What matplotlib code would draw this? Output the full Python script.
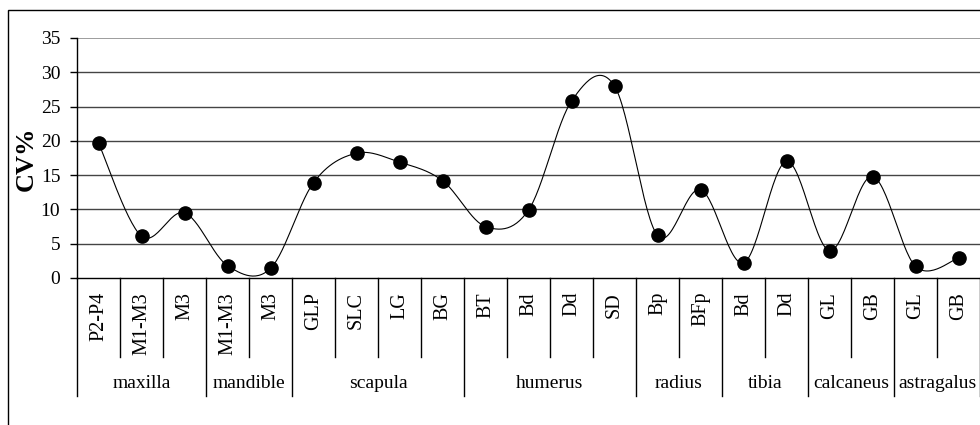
import numpy as np
import matplotlib
matplotlib.use("Agg")
import matplotlib.pyplot as plt
from matplotlib.patches import Rectangle
from matplotlib.transforms import blended_transform_factory

plt.rcParams['font.family'] = ['Liberation Serif', 'DejaVu Serif']

# data
groups = ["maxilla", "mandible", "scapula", "humerus", "radius", "tibia", "calcaneus", "astragalus"]
group_sizes = [3, 2, 4, 4, 2, 2, 2, 2]
measures = ["P2-P4", "M1-M3", "M3",
            "M1-M3", "M3",
            "GLP", "SLC", "LG", "BG",
            "BT", "Bd", "Dd", "SD",
            "Bp", "BFp",
            "Bd", "Dd",
            "GL", "GB",
            "GL", "GB"]
cv = [19.7, 6.1, 9.5,
      1.8, 1.4,
      13.9, 18.2, 16.9, 14.2,
      7.5, 9.9, 25.8, 28.0,
      6.2, 12.9,
      2.2, 17.0,
      4.0, 14.8,
      1.7, 2.9]
yticks = [0, 5, 10, 15, 20, 25, 30, 35]


def smooth(x, y, n=30):
    # Excel-like smoothed line (Catmull-Rom through bezier segments)
    x = np.asarray(x, float)
    y = np.asarray(y, float)
    pts = np.column_stack([x, y])
    out = []
    for i in range(len(pts) - 1):
        p0 = pts[i - 1] if i > 0 else pts[i]
        p1 = pts[i]
        p2 = pts[i + 1]
        p3 = pts[i + 2] if i + 2 < len(pts) else pts[i + 1]
        c1 = p1 + (p2 - p0) / 6
        c2 = p2 - (p3 - p1) / 6
        t = np.linspace(0, 1, n)[:, None]
        seg = ((1 - t) ** 3) * p1 + 3 * ((1 - t) ** 2) * t * c1 + 3 * (1 - t) * t ** 2 * c2 + t ** 3 * p2
        out.append(seg if i == 0 else seg[1:])
    out = np.vstack(out)
    return out[:, 0], out[:, 1]


W, H = 980, 425
fig = plt.figure(figsize=(W / 100, H / 100), dpi=100)
ax = fig.add_axes([77 / W, (H - 278) / H, 946 / W, 240 / H])

# outer chart border
fig.patches.append(Rectangle((8 / W, -0.1), 1.2, 1.1 - 10 / H, transform=fig.transFigure,
                             fill=False, edgecolor='black', lw=1.0))

xs = np.arange(len(cv))
sx, sy = smooth(xs, cv)
ax.plot(sx, sy, color='black', lw=0.8, zorder=3)
ax.plot(xs, cv, 'o', color='black', markersize=9.5, zorder=4)

ax.set_xlim(-0.5, len(cv) - 0.5 + 1)
ax.set_ylim(0, 35)
ax.set_yticks(yticks)
ax.tick_params(axis='y', direction='out', length=5, width=1, labelsize=14, pad=7)
for v in yticks[1:]:
    ax.axhline(v, color='#8c8c8c' if v == 35 else '#444444', lw=1.2 if v == 35 else 1, zorder=1)
ax.set_xticks([])
for s in ['top', 'right']:
    ax.spines[s].set_visible(False)
ax.spines['left'].set_linewidth(1)
ax.spines['bottom'].set_linewidth(1)
fig.text(26 / W, 1 - 159 / H, "CV%", rotation=90, ha='center', va='center',
         fontsize=19, fontweight='bold')

trans = blended_transform_factory(ax.transData, ax.transAxes)
inner_y = (278 - 357) / 240
outer_y = (278 - 396) / 240

for i, m in enumerate(measures):
    ax.text(i, -14 / 240, m, rotation=90, ha='center', va='top', fontsize=14.5,
            transform=trans)

bounds = np.cumsum([0] + group_sizes)
for i in range(len(cv) + 1):
    yb = outer_y if i in bounds else inner_y
    ax.plot([i - 0.5, i - 0.5], [0, yb], color='black', lw=1, transform=trans, clip_on=False)

for g, a, b in zip(groups, bounds[:-1], bounds[1:]):
    ax.text((a + b - 1) / 2, (278 - 384) / 240, g, ha='center', va='center', fontsize=14,
            transform=trans)

fig.savefig("out.png", dpi=100)
